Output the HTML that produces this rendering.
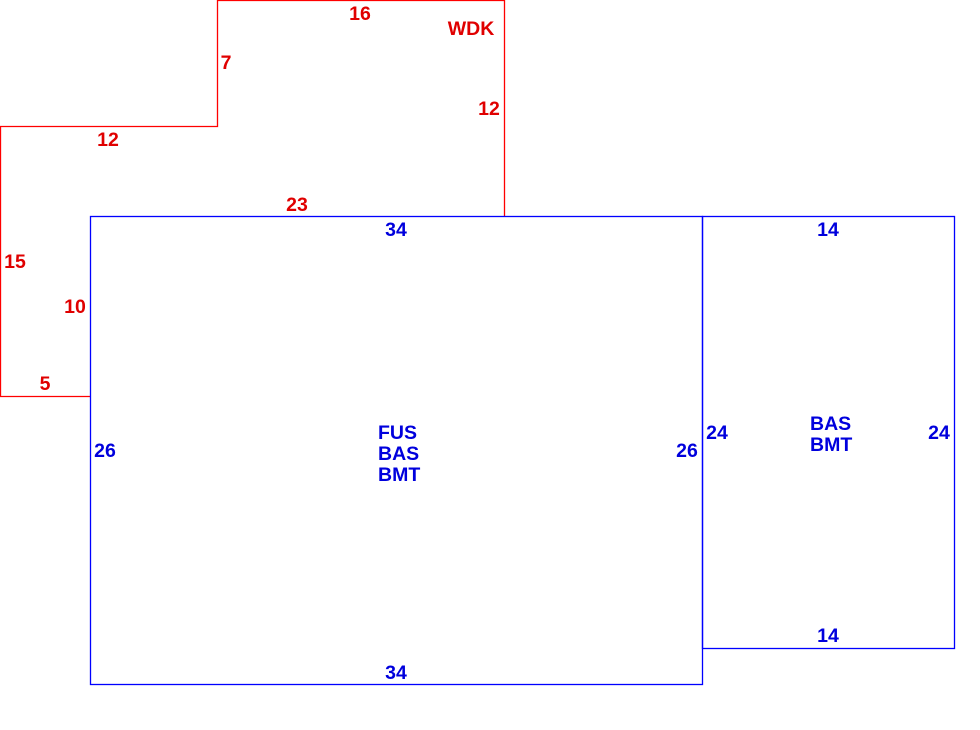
<!DOCTYPE html>
<html><head><style>html,body{margin:0;padding:0;background:#fff;}svg{display:block}</style></head>
<body>
<svg width="980" height="730" xmlns="http://www.w3.org/2000/svg" font-family="Liberation Sans, sans-serif" font-weight="bold" font-size="19.5">
<g fill="none" stroke="#ff0000" stroke-width="1.3">
<polyline points="504.5,216 504.5,0.5 217.5,0.5 217.5,126.5 0.5,126.5 0.5,396.5 90.5,396.5"/>
</g>
<g fill="none" stroke="#0000ff" stroke-width="1.3">
<rect x="90.5" y="216.5" width="612" height="468"/>
<rect x="702.5" y="216.5" width="252" height="432"/>
</g>
<g fill="#e00000">
<text x="360" y="20" text-anchor="middle">16</text>
<text x="471" y="35" text-anchor="middle">WDK</text>
<text x="226" y="69" text-anchor="middle">7</text>
<text x="489" y="115" text-anchor="middle">12</text>
<text x="108" y="146" text-anchor="middle">12</text>
<text x="297" y="211" text-anchor="middle">23</text>
<text x="15" y="268" text-anchor="middle">15</text>
<text x="75" y="313" text-anchor="middle">10</text>
<text x="45" y="390" text-anchor="middle">5</text>
</g>
<g fill="#0000dd">
<text x="396" y="236" text-anchor="middle">34</text>
<text x="828" y="236" text-anchor="middle">14</text>
<text x="105" y="457" text-anchor="middle">26</text>
<text x="687" y="457" text-anchor="middle">26</text>
<text x="717" y="439" text-anchor="middle">24</text>
<text x="939" y="439" text-anchor="middle">24</text>
<text x="828" y="642" text-anchor="middle">14</text>
<text x="396" y="679" text-anchor="middle">34</text>
<text x="378" y="439">FUS</text>
<text x="378" y="460">BAS</text>
<text x="378" y="481">BMT</text>
<text x="810" y="430">BAS</text>
<text x="810" y="451">BMT</text>
</g>
</svg>
</body></html>
